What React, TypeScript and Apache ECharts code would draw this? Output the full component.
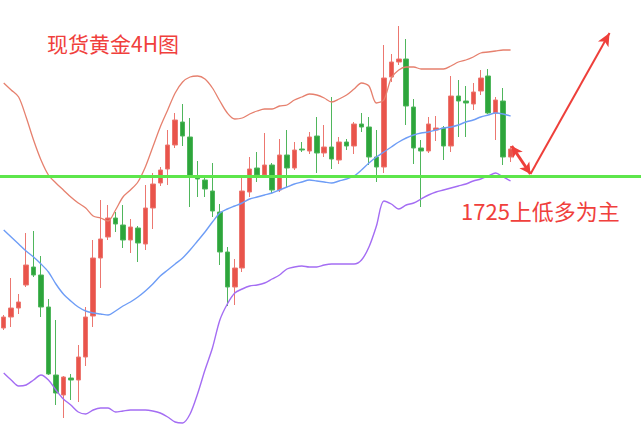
import React, { useEffect, useRef } from "react";
import * as echarts from "echarts";

// 4H candles (price)
const opens = [1679.4,1682.7,1685.4,1692.3,1697.7,1695.3,1685.7,1665.3,1659.3,1664.4,
1663.8,1670.7,1683.0,1700.4,1706.7,1712.4,1710.3,1705.8,1709.4,1704.6,
1715.4,1722.9,1727.1,1734.3,1741.2,1736.7,1724.7,1723.8,1720.5,1714.2,
1702.2,1691.7,1697.4,1720.2,1727.4,1725.3,1728.3,1720.8,1731.3,1727.4,
1733.1,1732.5,1737.0,1731.9,1733.7,1729.8,1735.2,1734.0,1740.6,1739.7,
1730.7,1727.7,1754.7,1759.2,1760.1,1745.7,1733.4,1732.5,1738.8,1739.4,
1734.0,1749.0,1747.5,1746.6,1750.5,1755.0,1743.9,1747.5,1730.7];
const closes = [1682.7,1685.4,1687.2,1698.3,1695.3,1685.7,1665.6,1659.9,1664.7,1663.8,
1670.7,1682.7,1700.4,1706.1,1712.4,1710.6,1705.8,1709.7,1704.9,1715.4,
1722.6,1726.8,1734.3,1741.8,1737.0,1725.0,1724.1,1721.1,1714.5,1702.2,
1691.7,1697.4,1720.5,1727.1,1725.3,1728.3,1720.8,1731.3,1727.4,1732.8,
1732.8,1736.7,1731.9,1733.7,1730.1,1735.2,1734.0,1740.6,1739.7,1730.7,
1727.7,1754.4,1759.2,1760.1,1746.0,1733.4,1732.5,1740.6,1739.4,1734.0,
1749.0,1747.5,1746.9,1750.2,1754.4,1743.9,1747.8,1730.7,1733.1];
const lows = [1678.8,1679.7,1683.6,1691.7,1694.7,1682.7,1665.3,1656.3,1652.4,1657.8,
1657.2,1668.0,1679.7,1691.4,1705.8,1708.2,1703.4,1701.9,1699.2,1702.8,
1709.1,1722.0,1722.3,1733.4,1734.0,1715.7,1718.7,1718.7,1712.7,1698.3,
1686.0,1686.3,1696.2,1718.7,1723.2,1724.4,1719.9,1720.2,1721.4,1726.8,
1732.2,1731.6,1725.9,1730.7,1727.1,1728.6,1732.8,1731.6,1738.2,1728.3,
1723.2,1725.9,1753.2,1758.3,1740.3,1728.6,1715.7,1731.9,1735.5,1729.8,
1732.2,1736.7,1736.7,1744.8,1749.3,1743.6,1735.8,1728.3,1729.2];
const highs = [1683.3,1694.4,1689.6,1707.9,1708.5,1701.0,1688.1,1681.8,1665.0,1665.6,
1674.3,1685.7,1705.8,1717.8,1716.3,1714.2,1716.3,1712.1,1710.0,1722.3,
1725.9,1727.7,1738.8,1743.9,1746.6,1742.4,1729.5,1724.4,1728.9,1716.6,
1703.7,1700.1,1724.7,1730.7,1732.2,1737.9,1728.9,1736.1,1738.8,1735.2,
1735.2,1738.2,1742.7,1740.3,1748.7,1736.7,1736.1,1741.2,1743.9,1742.7,
1738.8,1764.3,1761.6,1770.0,1766.1,1748.1,1735.8,1742.7,1743.0,1740.0,
1755.0,1753.8,1752.0,1752.9,1756.8,1757.1,1748.7,1751.4,1734.0];

// Bollinger bands
const upperBand = [1752.9,1750.8,1748.7,1742.7,1735.8,1729.8,1725.3,1722.9,1720.8,1718.7,
1716.9,1715.4,1713.0,1712.4,1711.5,1714.8,1718.7,1720.8,1723.2,1727.7,
1733.7,1739.7,1744.8,1749.9,1753.2,1754.7,1755.0,1754.1,1751.4,1747.5,
1743.9,1742.1,1742.4,1743.6,1744.5,1745.1,1745.1,1746.0,1746.3,1747.8,
1748.7,1749.6,1749.3,1748.4,1747.2,1748.1,1749.3,1751.1,1752.9,1752.0,
1746.9,1747.8,1754.4,1756.8,1757.7,1757.7,1757.1,1757.1,1757.1,1757.1,
1758.0,1759.2,1759.8,1760.7,1761.9,1762.2,1762.5,1762.8,1762.8];
const middleBand = [1708.8,1706.7,1704.6,1702.5,1700.7,1698.6,1696.2,1692.6,1689.6,1687.5,
1685.7,1684.5,1683.9,1683.6,1683.3,1684.5,1686.0,1687.2,1688.7,1690.5,
1692.6,1695.0,1696.8,1698.6,1700.4,1702.8,1705.5,1708.2,1711.2,1713.9,
1715.1,1716.0,1716.9,1718.1,1718.7,1719.3,1719.9,1720.8,1721.7,1722.6,
1723.2,1723.8,1723.5,1723.2,1722.9,1723.5,1724.1,1725.0,1726.8,1728.9,
1730.7,1732.2,1733.7,1735.2,1736.4,1737.3,1737.9,1738.2,1738.8,1739.4,
1739.7,1740.3,1741.2,1741.8,1742.7,1743.3,1743.9,1743.6,1743.0];
const lowerBand = [1665.9,1663.8,1662.0,1662.3,1663.8,1665.3,1663.8,1660.8,1658.1,1656.3,
1654.2,1653.6,1654.8,1655.4,1655.4,1654.2,1654.5,1654.8,1654.8,1654.8,
1654.5,1653.9,1652.7,1651.2,1650.9,1653.6,1659.6,1666.8,1673.4,1681.8,
1686.6,1689.9,1691.1,1692.0,1692.3,1692.9,1694.1,1695.3,1697.1,1697.7,
1698.0,1697.7,1697.7,1698.3,1698.6,1698.6,1698.6,1698.6,1699.8,1703.7,
1710.0,1717.5,1716.6,1715.1,1716.3,1716.9,1718.1,1719.3,1720.2,1720.8,
1721.4,1722.0,1722.6,1723.5,1724.1,1725.0,1725.9,1724.7,1723.5];

const supportLevel = 1725;
const slotCount = 86; // candle slots incl. empty space for the projection
// projection arrows: [slot index, price]
const pullbackArrow = [[68.15, 1734.0], [70.67, 1725.6]];
const upArrow = [[70.67, 1725.6], [81.28, 1767.9]];

const titleText = "现货黄金4H图";
const noteText = "1725上低多为主";

export default function App() {
  const ref = useRef<HTMLDivElement>(null);
  useEffect(() => {
    if (!ref.current) return;
    const chart = echarts.init(ref.current, null, { renderer: "svg" });
    const categories = Array.from({ length: slotCount }, (_, i) => String(i));
    const kData = opens.map((o, i) => [o, closes[i], lows[i], highs[i]]);
    const red = "#EE3F3A";
    const slotW = 7.54;
    chart.setOption({
      animation: false,
      backgroundColor: "#ffffff",
      grid: { left: -5.6, top: 0, width: slotCount * slotW, height: 425, containLabel: false },
      xAxis: [
        { type: "category", data: categories, boundaryGap: true, show: false },
        { type: "value", min: -0.5, max: slotCount - 0.5, show: false },
      ],
      yAxis: { type: "value", min: 1650.3, max: 1777.8, show: false, scale: true },
      series: [
        {
          type: "line", data: upperBand, symbol: "none", smooth: 0.3,
          lineStyle: { color: "#E6806E", width: 1.3 }, silent: true,
        },
        {
          type: "line", data: middleBand, symbol: "none", smooth: 0.3,
          lineStyle: { color: "#6E9DF6", width: 1.4 }, silent: true,
        },
        {
          type: "line", data: lowerBand, symbol: "none", smooth: 0.3,
          lineStyle: { color: "#A46DF3", width: 1.4 }, silent: true,
        },
        {
          type: "candlestick",
          data: kData,
          barWidth: 5,
          itemStyle: {
            color: "#E9544B", color0: "#2DA53B",
            borderColor: "#EC7770", borderColor0: "#4FB65C", borderWidth: 1,
          },
          markLine: {
            silent: true, symbol: "none", animation: false,
            label: { show: false },
            lineStyle: { color: "#5DE64B", width: 3, type: "solid" },
            data: [{ yAxis: supportLevel }],
          },
        },
        {
          type: "line", xAxisIndex: 1, data: [], symbol: "none",
          markLine: {
            silent: true, animation: false,
            label: { show: false },
            data: [
              [
                { coord: pullbackArrow[0], symbol: "arrow", symbolSize: [9, 11], lineStyle: { color: red, width: 3, type: "solid" } },
                { coord: pullbackArrow[1], symbol: "arrow", symbolSize: [9, 11] },
              ],
              [
                { coord: upArrow[0], symbol: "none", lineStyle: { color: red, width: 2, type: "solid" } },
                { coord: upArrow[1], symbol: "arrow", symbolSize: [9, 13] },
              ],
            ],
          },
        },
      ],
      graphic: [
        {
          type: "text", left: 47, top: 32,
          style: { text: titleText, fill: "#F0403C", font: '21px "Noto Sans CJK SC", sans-serif' },
        },
        {
          type: "text", left: 461, top: 199,
          style: { text: noteText, fill: "#F0403C", font: '22px "Noto Sans CJK SC", sans-serif' },
        },
      ],
    });
    return () => chart.dispose();
  }, []);
  return (
    <div
      ref={ref}
      style={{ position: "fixed", left: 0, top: 0, width: 641, height: 425, background: "#fff" }}
    />
  );
}
